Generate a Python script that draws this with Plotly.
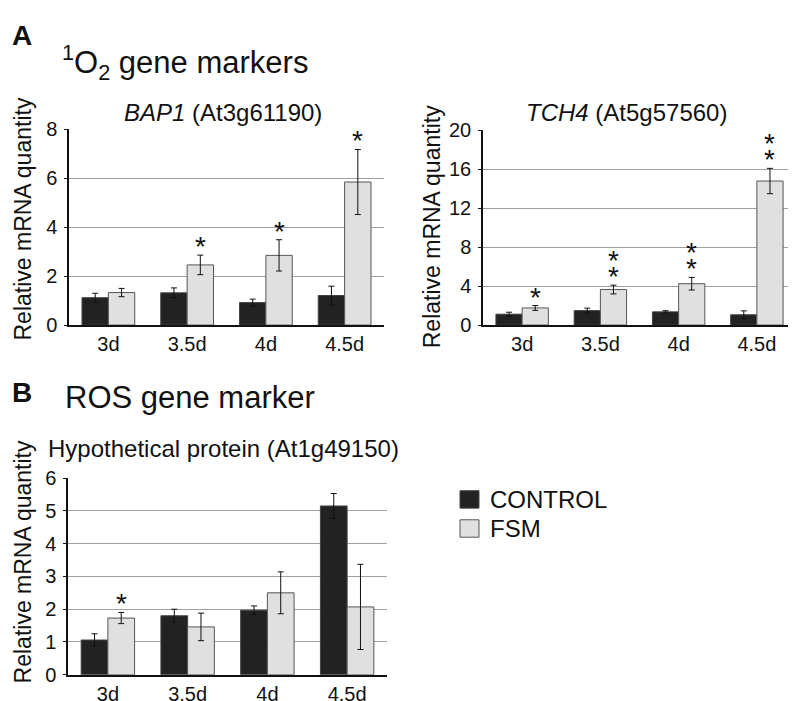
import plotly.graph_objects as go

days = ["3d", "3.5d", "4d", "4.5d"]

bap1_control = [1.12, 1.32, 0.92, 1.21]
bap1_control_err = [0.18, 0.20, 0.14, 0.38]
bap1_fsm = [1.33, 2.46, 2.85, 5.85]
bap1_fsm_err = [0.17, 0.40, 0.64, 1.33]
bap1_stars = [0, 1, 1, 1]

tch4_control = [1.12, 1.49, 1.36, 1.06]
tch4_control_err = [0.20, 0.25, 0.12, 0.40]
tch4_fsm = [1.76, 3.65, 4.25, 14.8]
tch4_fsm_err = [0.25, 0.45, 0.65, 1.30]
tch4_stars = [1, 2, 2, 2]

hyp_control = [1.06, 1.80, 1.97, 5.15]
hyp_control_err = [0.19, 0.20, 0.13, 0.38]
hyp_fsm = [1.73, 1.46, 2.50, 2.07]
hyp_fsm_err = [0.17, 0.42, 0.64, 1.30]
hyp_stars = [1, 0, 0, 0]

W, H = 796, 701
FONT = "Liberation Sans, Arial, Helvetica, sans-serif"
CTRL_COLOR = "#222222"
FSM_COLOR = "#e0e0e0"

fig = go.Figure()

panels = [
    ("x", "y", bap1_control, bap1_control_err, bap1_fsm, bap1_fsm_err, bap1_stars),
    ("x2", "y2", tch4_control, tch4_control_err, tch4_fsm, tch4_fsm_err, tch4_stars),
    ("x3", "y3", hyp_control, hyp_control_err, hyp_fsm, hyp_fsm_err, hyp_stars),
]

for i, (xa, ya, c, ce, f, fe, stars) in enumerate(panels):
    fig.add_trace(go.Bar(
        x=days, y=c, name="CONTROL", xaxis=xa, yaxis=ya, showlegend=False,
        marker=dict(color=CTRL_COLOR, line=dict(color="#444444", width=1)),
        error_y=dict(type="data", array=ce, color="#111111", thickness=1, width=3),
        offsetgroup="c",
    ))
    fig.add_trace(go.Bar(
        x=days, y=f, name="FSM", xaxis=xa, yaxis=ya, showlegend=False,
        marker=dict(color=FSM_COLOR, line=dict(color="#555555", width=1)),
        error_y=dict(type="data", array=fe, color="#111111", thickness=1, width=3),
        offsetgroup="f",
    ))
    # significance asterisks above FSM bars
    for k, n in enumerate(stars):
        for s in range(n):
            fig.add_annotation(
                x=k + 0.1675, y=f[k] + fe[k], xref=xa, yref=ya,
                text="*", showarrow=False, yanchor="bottom",
                yshift=-9 + 16 * (n - 1 - s), font=dict(size=28, color="#111", family=FONT),
            )

def py(px):
    return 1 - px / H

def px_(x):
    return x / W

axis_common = dict(
    showline=True, linecolor="#111111", linewidth=1.5,
    tickfont=dict(size=20, color="#111", family=FONT),
)
yaxis_common = dict(
    ticks="outside", ticklen=3, tickcolor="#111", showgrid=True,
    gridcolor="#a0a0a0", gridwidth=1, zeroline=False, ticklabelstandoff=3,
)

fig.update_layout(
    width=W, height=H, margin=dict(l=0, r=0, t=0, b=0),
    paper_bgcolor="white", plot_bgcolor="white",
    barmode="group", bargap=0.33, bargroupgap=0,
    font=dict(family=FONT, color="#111"),
    xaxis=dict(domain=[px_(61), px_(376)], anchor="y", ticks="", **axis_common),
    yaxis=dict(domain=[py(316), py(114)], anchor="x", range=[0, 8], dtick=2,
               **yaxis_common, **axis_common),
    xaxis2=dict(domain=[px_(475), px_(788)], anchor="y2", ticks="", **axis_common),
    yaxis2=dict(domain=[py(316), py(115)], anchor="x2", range=[0, 20], dtick=4,
                **yaxis_common, **axis_common),
    xaxis3=dict(domain=[px_(60), px_(379)], anchor="y3", ticks="", **axis_common),
    yaxis3=dict(domain=[py(677), py(474)], anchor="x3", range=[0, 6], dtick=1,
                **yaxis_common, **axis_common),
)

def ann(text, x, y, size, xanchor="center", bold=False, angle=0):
    fig.add_annotation(
        text=f"<b>{text}</b>" if bold else text, x=px_(x), y=py(y), xref="paper", yref="paper",
        showarrow=False, xanchor=xanchor, yanchor="middle", textangle=angle,
        font=dict(size=size, family=FONT, color="#111"),
    )

ann("A", 2, 17, 28, xanchor="left", bold=True)
ann("<sup>1</sup>O<sub>2</sub> gene markers", 52, 45, 31, xanchor="left")
ann("<i>BAP1</i> (At3g61190)", 215, 97, 24)
ann("<i>TCH4</i> (At5g57560)", 618, 97, 24)
ann("B", 2, 386, 28, xanchor="left", bold=True)
ann("ROS gene marker", 55, 391, 31, xanchor="left")
ann("Hypothetical protein (At1g49150)", 38, 443, 24, xanchor="left")
ann("Relative mRNA quantity", 15, 207, 23, angle=-90)
ann("Relative mRNA quantity", 424, 215, 23, angle=-90)
ann("Relative mRNA quantity", 15, 561, 23, angle=-90)

# legend
legend_items = [("CONTROL", CTRL_COLOR, "#444444", 496), ("FSM", FSM_COLOR, "#555555", 526)]
for label, fill, edge, yc in legend_items:
    fig.add_shape(type="rect", xref="paper", yref="paper",
                  x0=px_(452), x1=px_(471), y0=py(yc + 9), y1=py(yc - 9),
                  fillcolor=fill, line=dict(color=edge, width=1))
    ann(label, 480, yc, 24, xanchor="left")

fig.write_html("out.html")
